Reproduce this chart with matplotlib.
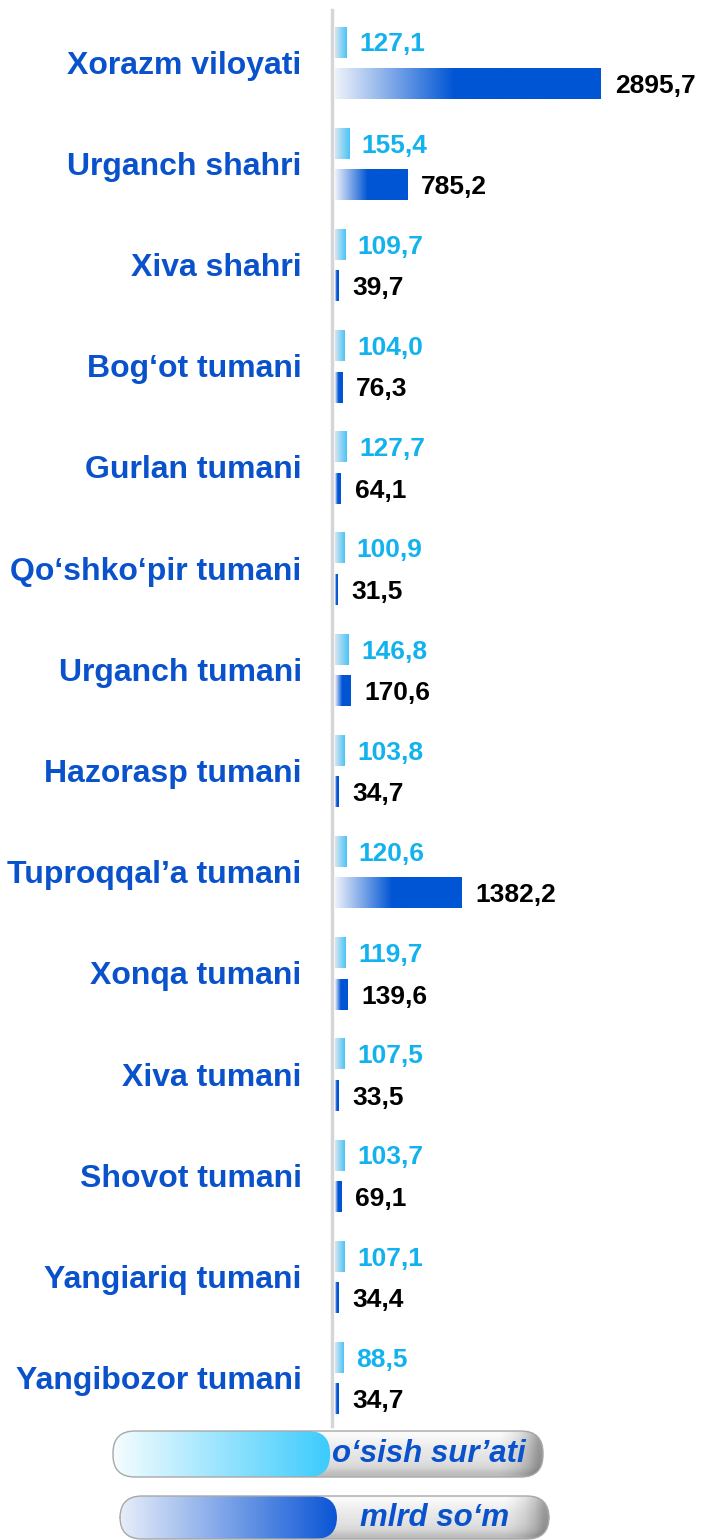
import numpy as np
import matplotlib
matplotlib.use("Agg")
import matplotlib.pyplot as plt
from matplotlib.colors import LinearSegmentedColormap
from matplotlib.patches import FancyBboxPatch
from matplotlib.lines import Line2D

categories = ["Xorazm viloyati", "Urganch shahri", "Xiva shahri", "Bog‘ot tumani",
              "Gurlan tumani", "Qo‘shko‘pir tumani", "Urganch tumani", "Hazorasp tumani",
              "Tuproqqal’a tumani", "Xonqa tumani", "Xiva tumani", "Shovot tumani",
              "Yangiariq tumani", "Yangibozor tumani"]
growth = [127.1, 155.4, 109.7, 104.0, 127.7, 100.9, 146.8, 103.8, 120.6, 119.7,
          107.5, 103.7, 107.1, 88.5]
volume = [2895.7, 785.2, 39.7, 76.3, 64.1, 31.5, 170.6, 34.7, 1382.2, 139.6,
          33.5, 69.1, 34.4, 34.7]
legend_labels = ["o‘sish sur’ati", "mlrd so‘m"]

W, H = 701, 1540
BLUE = "#0a52cc"
CYAN = "#12b2ee"

plt.rcParams["font.family"] = ["Liberation Sans", "DejaVu Sans"]

fig = plt.figure(figsize=(W / 100, H / 100), dpi=100)
fig.patch.set_facecolor("white")

# main axes: bars start at x=335px, max value ends at ~601px
x0, x1 = 335, W
ax = fig.add_axes([x0 / W, 115 / H, (x1 - x0) / W, 1415 / H])
xmax = max(volume) * (x1 - x0) / 266
ymin, ymax = -0.53, 13.455
ax.axis("off")

cmap_vol = LinearSegmentedColormap.from_list("vol", [(0, "#eef2fa"), (0.45, "#0055d4"), (1, "#0055d4")])
cmap_gr = LinearSegmentedColormap.from_list("gr", [(0, "#dae6f0"), (1, "#48c4f7")])
grad = np.linspace(0, 1, 256).reshape(1, -1)

h = 0.3
for i, (g, v) in enumerate(zip(growth, volume)):
    yg, yv = i - 0.21, i + 0.20
    ax.imshow(grad, cmap=cmap_gr, extent=[0, g, yg + h / 2, yg - h / 2], aspect="auto", zorder=2)
    ax.imshow(grad, cmap=cmap_vol, extent=[0, v, yv + h / 2, yv - h / 2], aspect="auto", zorder=2)
    ax.annotate(f"{g:.1f}".replace(".", ","), (g, yg), xytext=(9, -1.5), textcoords="offset points",
                ha="left", va="center", fontsize=19, fontweight="bold", color=CYAN)
    ax.annotate(f"{v:.1f}".replace(".", ","), (v, yv), xytext=(10, -1.5), textcoords="offset points",
                ha="left", va="center", fontsize=19, fontweight="bold", color="black")
    ax.annotate(categories[i], (0, i), xytext=(-24, -1.5), textcoords="offset points",
                ha="right", va="center", fontsize=23, fontweight="bold", color=BLUE,
                annotation_clip=False)

ax.set_xlim(0, xmax)
ax.set_ylim(ymax, ymin)

# vertical axis line
fig.add_artist(Line2D([332 / W, 332 / W], [1 - 10 / H, 1 - 1426 / H], color="#d6d6d6", lw=2.5))

# legend pills
lg = fig.add_axes([0, 0, 1, 1], zorder=5)
lg.set_xlim(0, W)
lg.set_ylim(H, 0)
lg.axis("off")

vgrad = np.array([[0.98], [0.95], [0.92], [0.9], [0.88], [0.84], [0.74]])
hgrad = np.array([[1.0] * 40 + [0.96, 0.9, 0.8, 0.65]])
shade = vgrad * hgrad
cmap_pill_cols = [LinearSegmentedColormap.from_list("p1", ["#f6fdff", "#3ccbfd"]),
                  LinearSegmentedColormap.from_list("p2", ["#e8eef9", "#0a55d6"])]
pills = [(113, 1431, 543, 330, 46), (120, 1496, 549, 337, 43)]
for (px0, py0, px1, pc, ph), label, cm in zip(pills, legend_labels, cmap_pill_cols):
    outer = FancyBboxPatch((px0, py0), px1 - px0, ph, boxstyle="round,pad=0,rounding_size=22",
                           fc="none", ec="#a8a8a8", lw=1.0, zorder=4)
    lg.add_patch(outer)
    im = lg.imshow(shade, cmap="gray", vmin=0, vmax=1, extent=[px0, px1, py0 + ph, py0],
                   aspect="auto", zorder=3, interpolation="bilinear")
    im.set_clip_path(outer)
    inner = FancyBboxPatch((px0, py0), pc - px0, ph, boxstyle="round,pad=0,rounding_size=22",
                           fc="none", ec="none", zorder=4)
    lg.add_patch(inner)
    im2 = lg.imshow(grad, cmap=cm, extent=[px0, pc, py0 + ph, py0], aspect="auto", zorder=3.5)
    im2.set_clip_path(inner)
    lg.text((pc + px1) / 2 - 8, py0 + ph / 2, label, ha="center", va="center", fontsize=22.5,
            fontweight="bold", fontstyle="italic", color=BLUE, zorder=6)

fig.savefig("out.png", dpi=100, facecolor="white")
